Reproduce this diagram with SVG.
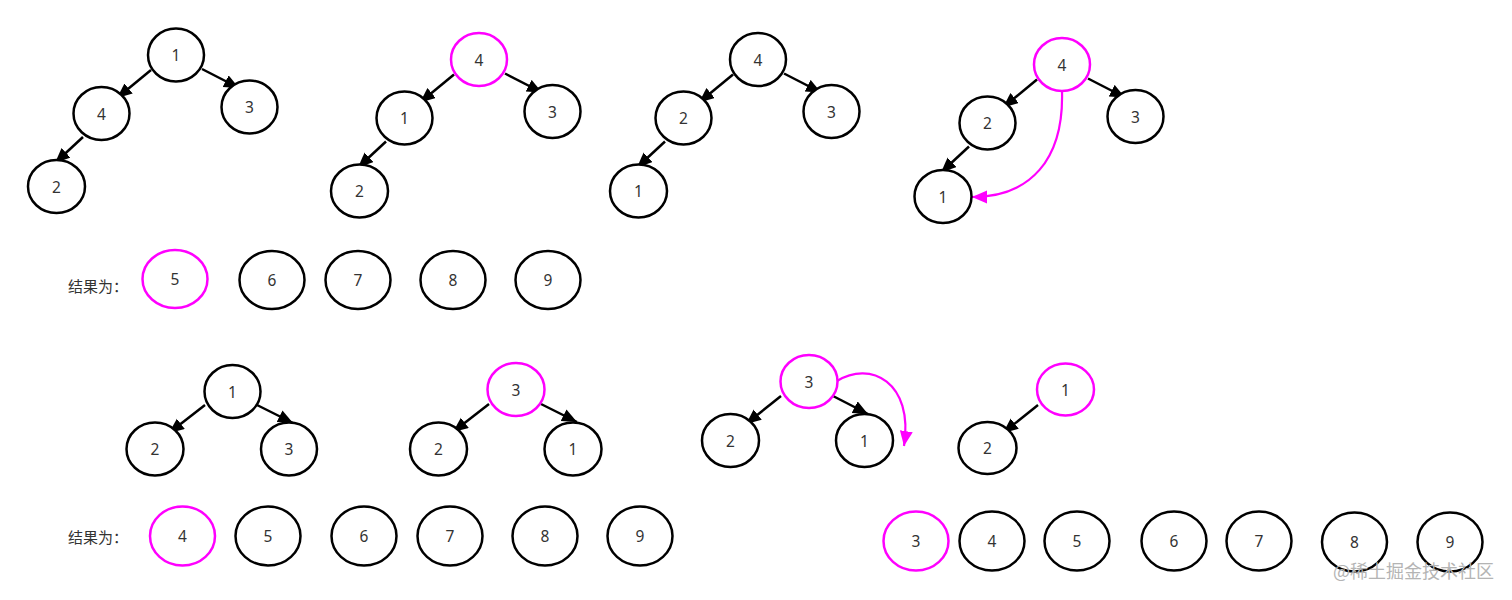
<svg xmlns="http://www.w3.org/2000/svg" width="1512" height="600" viewBox="0 0 1512 600">
<style>
.n{fill:#fff;stroke:#000;stroke-width:2.5}
.m{fill:#fff;stroke:#ff00ff;stroke-width:2.5}
.t{font-family:"Noto Sans","Liberation Sans",sans-serif;font-size:15.5px;fill:#333;text-anchor:middle;dominant-baseline:central}
.lbl{font-family:"Noto Sans CJK SC","Noto Sans",sans-serif;font-size:15px;fill:#333}
.e{fill:none;stroke:#000;stroke-width:2.5;marker-end:url(#ab)}
.c{fill:none;stroke:#ff00ff;stroke-width:2.2;marker-end:url(#am)}
.wm{font-family:"Noto Sans CJK SC",sans-serif;font-size:18px;fill:#b4b4b4}
</style>
<defs>
<marker id="ab" markerUnits="userSpaceOnUse" markerWidth="17" markerHeight="15" refX="15" refY="6.5" orient="auto"><path d="M0,0 L15,6.5 L0,13 z" fill="#000"/></marker>
<marker id="am" markerUnits="userSpaceOnUse" markerWidth="17" markerHeight="15" refX="15" refY="6.5" orient="auto"><path d="M0,0 L15,6.5 L0,13 z" fill="#ff00ff"/></marker>
</defs>
<rect width="1512" height="600" fill="#fff"/>
<g id="connectors">
<line class="e" x1="151" y1="70" x2="117" y2="98"/>
<line class="e" x1="202" y1="69" x2="239" y2="88"/>
<line class="e" x1="83" y1="137" x2="55" y2="163"/>
<line class="e" x1="454" y1="74.5" x2="420" y2="102.5"/>
<line class="e" x1="505" y1="73.5" x2="542" y2="92.5"/>
<line class="e" x1="386" y1="141.5" x2="358" y2="167.5"/>
<line class="e" x1="733" y1="74.5" x2="699" y2="102.5"/>
<line class="e" x1="784" y1="73.5" x2="821" y2="92.5"/>
<line class="e" x1="665" y1="141.5" x2="637" y2="167.5"/>
<line class="e" x1="1037" y1="79.5" x2="1003" y2="107.5"/>
<line class="e" x1="1088" y1="78.5" x2="1125" y2="97.5"/>
<line class="e" x1="969" y1="146.5" x2="941" y2="172.5"/>
<path class="c" d="M1062,91 C1064,160 1030,197 972,197"/>
<line class="e" x1="205" y1="405" x2="169" y2="433"/>
<line class="e" x1="257" y1="405" x2="293" y2="423"/>
<line class="e" x1="489" y1="404" x2="453" y2="432"/>
<line class="e" x1="541" y1="404" x2="577" y2="422"/>
<line class="e" x1="781" y1="396" x2="746" y2="424"/>
<line class="e" x1="833" y1="396" x2="868" y2="414"/>
<path class="c" d="M837,381 C870,360 914,382 904,446"/>
<line class="e" x1="1038" y1="405" x2="1003" y2="433"/>
</g>
<g id="tree1">
<g id="t1n1"><ellipse class="n" cx="176" cy="55" rx="28" ry="26.5"/><text class="t" x="176" y="55">1</text></g>
<g id="t1n4"><ellipse class="n" cx="101.5" cy="113.5" rx="28" ry="26.5"/><text class="t" x="101.5" y="113.5">4</text></g>
<g id="t1n3"><ellipse class="n" cx="249.5" cy="107" rx="28" ry="26.5"/><text class="t" x="249.5" y="107">3</text></g>
<g id="t1n2"><ellipse class="n" cx="56.5" cy="186.5" rx="28.5" ry="26.5"/><text class="t" x="56.5" y="186.5">2</text></g>
</g>
<g id="tree2">
<g id="t2n4"><ellipse class="m" cx="479" cy="59.5" rx="28" ry="26.5"/><text class="t" x="479" y="59.5">4</text></g>
<g id="t2n1"><ellipse class="n" cx="404.5" cy="118" rx="28" ry="26.5"/><text class="t" x="404.5" y="118">1</text></g>
<g id="t2n3"><ellipse class="n" cx="552.5" cy="111.5" rx="28" ry="26.5"/><text class="t" x="552.5" y="111.5">3</text></g>
<g id="t2n2"><ellipse class="n" cx="359.5" cy="191" rx="28.5" ry="26.5"/><text class="t" x="359.5" y="191">2</text></g>
</g>
<g id="tree3">
<g id="t3n4"><ellipse class="n" cx="758" cy="59.5" rx="28" ry="26.5"/><text class="t" x="758" y="59.5">4</text></g>
<g id="t3n2"><ellipse class="n" cx="683.5" cy="118" rx="28" ry="26.5"/><text class="t" x="683.5" y="118">2</text></g>
<g id="t3n3"><ellipse class="n" cx="831.5" cy="111.5" rx="28" ry="26.5"/><text class="t" x="831.5" y="111.5">3</text></g>
<g id="t3n1"><ellipse class="n" cx="638.5" cy="191" rx="28.5" ry="26.5"/><text class="t" x="638.5" y="191">1</text></g>
</g>
<g id="tree4">
<g id="t4n4"><ellipse class="m" cx="1062" cy="64.5" rx="28" ry="26.5"/><text class="t" x="1062" y="64.5">4</text></g>
<g id="t4n2"><ellipse class="n" cx="987.5" cy="123" rx="28" ry="26.5"/><text class="t" x="987.5" y="123">2</text></g>
<g id="t4n3"><ellipse class="n" cx="1135.5" cy="116.5" rx="28" ry="26.5"/><text class="t" x="1135.5" y="116.5">3</text></g>
<g id="t4n1"><ellipse class="n" cx="943" cy="196.5" rx="28.5" ry="26.5"/><text class="t" x="943" y="196.5">1</text></g>
</g>
<g id="result1">
<text class="lbl" x="68" y="292">结果为：</text>
<g id="r1n5"><ellipse class="m" cx="175" cy="279" rx="32.5" ry="29"/><text class="t" x="175" y="279">5</text></g>
<g id="r1n6"><ellipse class="n" cx="272" cy="280" rx="32.5" ry="29"/><text class="t" x="272" y="280">6</text></g>
<g id="r1n7"><ellipse class="n" cx="358" cy="280" rx="32.5" ry="29"/><text class="t" x="358" y="280">7</text></g>
<g id="r1n8"><ellipse class="n" cx="453" cy="280" rx="32.5" ry="29"/><text class="t" x="453" y="280">8</text></g>
<g id="r1n9"><ellipse class="n" cx="548" cy="280" rx="32.5" ry="29"/><text class="t" x="548" y="280">9</text></g>
</g>
<g id="tree5">
<g id="t5n1"><ellipse class="n" cx="232.5" cy="391.5" rx="28" ry="26.5"/><text class="t" x="232.5" y="391.5">1</text></g>
<g id="t5n2"><ellipse class="n" cx="155" cy="449" rx="28.5" ry="26.5"/><text class="t" x="155" y="449">2</text></g>
<g id="t5n3"><ellipse class="n" cx="289" cy="449" rx="28" ry="26.5"/><text class="t" x="289" y="449">3</text></g>
</g>
<g id="tree6">
<g id="t6n3"><ellipse class="m" cx="516" cy="389.5" rx="28.5" ry="26.5"/><text class="t" x="516" y="389.5">3</text></g>
<g id="t6n2"><ellipse class="n" cx="438.5" cy="449" rx="28.5" ry="26.5"/><text class="t" x="438.5" y="449">2</text></g>
<g id="t6n1"><ellipse class="n" cx="573" cy="449" rx="28.5" ry="26.5"/><text class="t" x="573" y="449">1</text></g>
</g>
<g id="tree7">
<g id="t7n3"><ellipse class="m" cx="809" cy="381.5" rx="28.5" ry="26.5"/><text class="t" x="809" y="381.5">3</text></g>
<g id="t7n2"><ellipse class="n" cx="730.5" cy="440.5" rx="28.5" ry="26.5"/><text class="t" x="730.5" y="440.5">2</text></g>
<g id="t7n1"><ellipse class="n" cx="864.5" cy="440.5" rx="28.5" ry="26.5"/><text class="t" x="864.5" y="440.5">1</text></g>
</g>
<g id="tree8">
<g id="t8n1"><ellipse class="m" cx="1065.5" cy="389.5" rx="28.5" ry="26"/><text class="t" x="1065.5" y="389.5">1</text></g>
<g id="t8n2"><ellipse class="n" cx="987.5" cy="448" rx="29" ry="26"/><text class="t" x="987.5" y="448">2</text></g>
</g>
<g id="result2">
<text class="lbl" x="68" y="543">结果为：</text>
<g id="r2n4"><ellipse class="m" cx="182.5" cy="536" rx="32.5" ry="29.5"/><text class="t" x="182.5" y="536">4</text></g>
<g id="r2n5"><ellipse class="n" cx="268" cy="536" rx="32.5" ry="29.5"/><text class="t" x="268" y="536">5</text></g>
<g id="r2n6"><ellipse class="n" cx="364" cy="536" rx="32.5" ry="29.5"/><text class="t" x="364" y="536">6</text></g>
<g id="r2n7"><ellipse class="n" cx="450" cy="536" rx="32.5" ry="29.5"/><text class="t" x="450" y="536">7</text></g>
<g id="r2n8"><ellipse class="n" cx="545" cy="536" rx="32.5" ry="29.5"/><text class="t" x="545" y="536">8</text></g>
<g id="r2n9"><ellipse class="n" cx="640" cy="536" rx="32.5" ry="29.5"/><text class="t" x="640" y="536">9</text></g>
</g>
<g id="result3">
<g id="r3n3"><ellipse class="m" cx="916" cy="541" rx="32.5" ry="29.5"/><text class="t" x="916" y="541">3</text></g>
<g id="r3n4"><ellipse class="n" cx="992" cy="541" rx="32.5" ry="29.5"/><text class="t" x="992" y="541">4</text></g>
<g id="r3n5"><ellipse class="n" cx="1077" cy="541" rx="32.5" ry="29.5"/><text class="t" x="1077" y="541">5</text></g>
<g id="r3n6"><ellipse class="n" cx="1174" cy="541" rx="32.5" ry="29.5"/><text class="t" x="1174" y="541">6</text></g>
<g id="r3n7"><ellipse class="n" cx="1259" cy="541" rx="32.5" ry="29.5"/><text class="t" x="1259" y="541">7</text></g>
<g id="r3n8"><ellipse class="n" cx="1354.5" cy="542" rx="32.5" ry="29.5"/><text class="t" x="1354.5" y="542">8</text></g>
<g id="r3n9"><ellipse class="n" cx="1450" cy="542" rx="32.5" ry="29.5"/><text class="t" x="1450" y="542">9</text></g>
</g>
<text class="wm" x="1333" y="578">@稀土掘金技术社区</text>
</svg>
